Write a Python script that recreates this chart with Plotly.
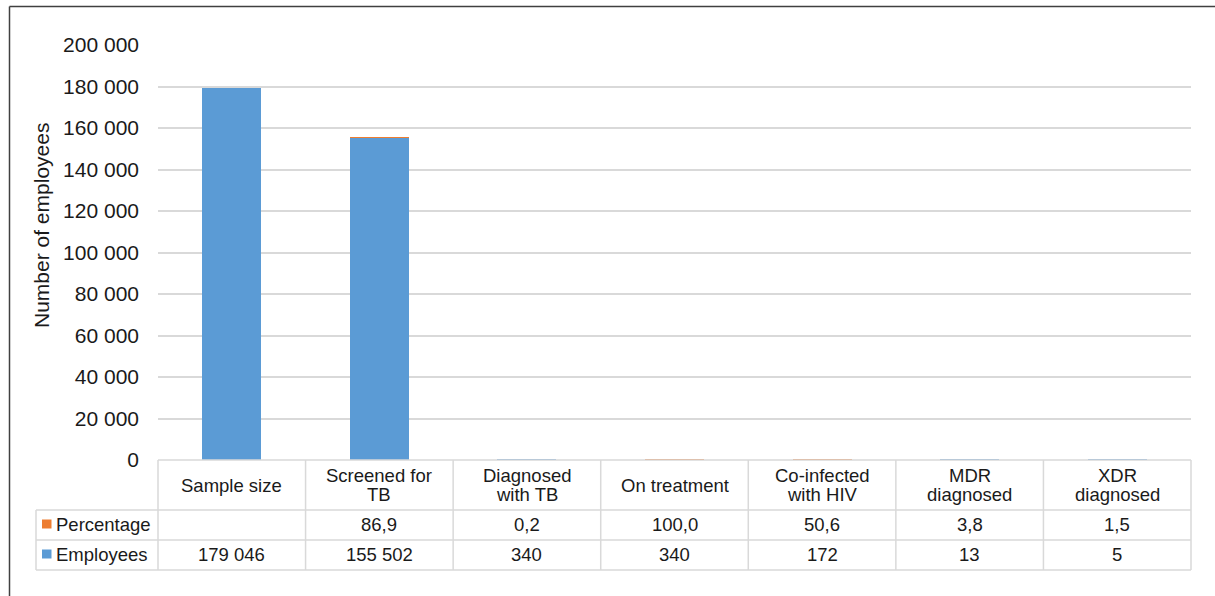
import plotly.graph_objects as go

# Categories and series
categories = ["Sample size", "Screened for<br>TB", "Diagnosed<br>with TB", "On treatment",
              "Co-infected<br>with HIV", "MDR<br>diagnosed", "XDR<br>diagnosed"]
employees = [179046, 155502, 340, 340, 172, 13, 5]
percentage = [None, 86.9, 0.2, 100.0, 50.6, 3.8, 1.5]
employee_labels = ["179 046", "155 502", "340", "340", "172", "13", "5"]
percentage_labels = ["", "86,9", "0,2", "100,0", "50,6", "3,8", "1,5"]
y_ticks = [0, 20000, 40000, 60000, 80000, 100000, 120000, 140000, 160000, 180000, 200000]
y_tick_text = ["0", "20 000", "40 000", "60 000", "80 000", "100 000", "120 000",
               "140 000", "160 000", "180 000", "200 000"]

BLUE = "#5b9bd5"
ORANGE = "#ed7d31"
GRID = "#d9d9d9"
TEXT = "#1a1a1a"
FONT = "Liberation Sans, Arial, sans-serif"

W, H = 1215, 596
L, R, T, B = 158, 1191, 45, 460  # plot area in pixels


def px(x):
    return (x - L) / (R - L)


def py(y):
    return (B - y) / (B - T)


idx = list(range(len(categories)))

fig = go.Figure()
fig.add_trace(go.Bar(x=idx, y=employees, name="Employees", marker_color=BLUE,
                     marker_line_width=0))
fig.add_trace(go.Bar(x=idx, y=percentage, name="Percentage", marker_color=ORANGE,
                     marker_line_width=0))

shapes = []
annotations = []
line_style = dict(color=GRID, width=1.5)

# data table grid
row_y = [460, 510, 540, 570]
n = len(categories)
for i, yy in enumerate(row_y):
    x0 = px(158) if i == 0 else px(36)
    shapes.append(dict(type="line", xref="paper", yref="paper", x0=x0, x1=1,
                       y0=py(yy), y1=py(yy), line=line_style))
for k in range(n + 1):
    shapes.append(dict(type="line", xref="paper", yref="paper", x0=k / n, x1=k / n,
                       y0=py(460), y1=py(570), line=line_style))
shapes.append(dict(type="line", xref="paper", yref="paper", x0=px(36), x1=px(36),
                   y0=py(510), y1=py(570), line=line_style))

# outer frame
frame = dict(color="#404040", width=1.5)
shapes.append(dict(type="line", xref="paper", yref="paper", x0=px(9.5), x1=px(1220),
                   y0=py(6.5), y1=py(6.5), line=frame))
shapes.append(dict(type="line", xref="paper", yref="paper", x0=px(9.5), x1=px(9.5),
                   y0=py(6.5), y1=py(600), line=frame))

cell_font = dict(family=FONT, size=18.5, color=TEXT)


def cell(x, ypix, text, xref="x", xanchor="center"):
    annotations.append(dict(x=x, y=py(ypix), xref=xref, yref="paper", text=text,
                            showarrow=False, font=cell_font, xanchor=xanchor,
                            yanchor="middle"))


for i, cat in enumerate(categories):
    lines = cat.split("<br>")
    if len(lines) == 1:
        cell(i, 485, lines[0])
    else:
        cell(i, 475, lines[0])
        cell(i, 494, lines[1])
    cell(i, 524, percentage_labels[i])
    cell(i, 554, employee_labels[i])

# legend keys in the table
for label, color, yc in [("Percentage", ORANGE, 524), ("Employees", BLUE, 554)]:
    shapes.append(dict(type="rect", xref="paper", yref="paper", x0=px(42), x1=px(51.5),
                       y0=py(yc + 4.5), y1=py(yc - 4.5), fillcolor=color, line_width=0))
    cell(px(54), yc, label, xref="paper", xanchor="left")

# y-axis title
annotations.append(dict(x=px(41), y=py(226), xref="paper", yref="paper",
                        text="Number of employees", textangle=-90, showarrow=False,
                        xanchor="center", yanchor="middle",
                        font=dict(family=FONT, size=21, color=TEXT)))

fig.update_layout(
    width=W, height=H,
    margin=dict(l=L, r=W - R, t=T, b=H - B, pad=0),
    barmode="stack",
    bargap=0.6,
    showlegend=False,
    plot_bgcolor="white",
    paper_bgcolor="white",
    font=dict(family=FONT, size=18, color=TEXT),
    xaxis=dict(range=[-0.5, n - 0.5], showticklabels=False, showgrid=False,
               zeroline=False, showline=False, fixedrange=True),
    yaxis=dict(range=[0, 200000], tickvals=y_ticks, ticktext=y_tick_text,
               showgrid=True, gridcolor=GRID, gridwidth=1.5, zeroline=False,
               showline=False, ticks="", ticklabelstandoff=18,
               tickfont=dict(family=FONT, size=21, color=TEXT)),
    shapes=shapes,
    annotations=annotations,
)

fig.write_html("out.html")
